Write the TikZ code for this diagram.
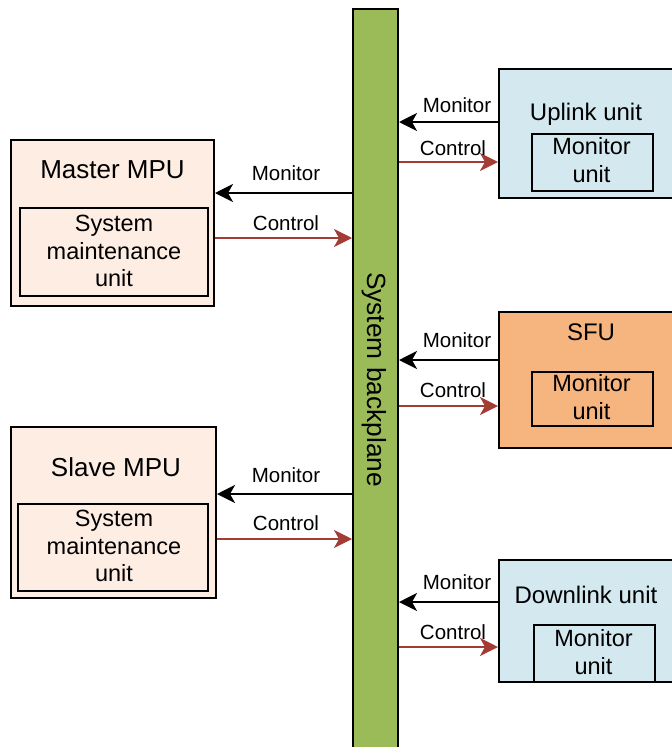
\documentclass[tikz,border=0pt]{standalone}
\usepackage{fontspec}
\setmainfont{Liberation Sans}
\usetikzlibrary{arrows.meta}

\definecolor{mpufill}{RGB}{253,237,227}
\definecolor{linkfill}{RGB}{211,233,239}
\definecolor{sfufill}{RGB}{246,180,127}
\definecolor{bpfill}{RGB}{155,187,89}
\definecolor{ctrlred}{RGB}{163,60,52}

\tikzset{
  box/.style={draw=black, line width=2pt, inner sep=0pt, align=center},
  titletext/.style={font=\fontsize{24}{27.5}\selectfont},
  mputitle/.style={font=\fontsize{26}{28}\selectfont},
  boxtext/.style={font=\fontsize{23.5}{27.5}\selectfont, align=center},
  lbl/.style={font=\fontsize{20.5}{23}\selectfont, inner sep=0pt},
  tip/.style={-{Stealth[length=18pt,width=18pt,inset=5pt]}},
  mon/.style={tip, draw=black, line width=2pt},
  ctl/.style={tip, draw=ctrlred, fill=ctrlred, line width=2pt},
}

\begin{document}
\begin{tikzpicture}[x=1pt, y=-1pt]
\useasboundingbox (0,0) rectangle (672,747);

% system backplane
\node[box, fill=bpfill, minimum width=45pt, minimum height=760pt,
      anchor=north west] (bp) at (352,8) {};
\node[rotate=-90, font=\fontsize{26.3}{28}\selectfont] (bplabel) at (374.5,379.5) {System backplane};

% master MPU
\node[box, fill=mpufill, minimum width=203pt, minimum height=166pt] (master) at (112.5,223) {};
\node[mputitle] (mastertitle) at (112.5,170) {Master MPU};
\node[box, fill=mpufill, minimum width=188pt, minimum height=88pt] (masterin) at (114,252) {};
\node[boxtext] (mastertxt) at (114,251) {System\\maintenance\\unit};

% slave MPU
\node[box, fill=mpufill, minimum width=205pt, minimum height=171pt] (slave) at (113.5,512.5) {};
\node[mputitle] (slavetitle) at (116,467) {Slave MPU};
\node[box, fill=mpufill, minimum width=190pt, minimum height=87pt] (slavein) at (113,547.5) {};
\node[boxtext] (slavetxt) at (114,546) {System\\maintenance\\unit};

% uplink unit
\node[box, fill=linkfill, minimum width=200pt, minimum height=129pt, anchor=north west] (up) at (498,68) {};
\node[titletext] (uptitle) at (586,114) {Uplink unit};
\node[box, fill=linkfill, minimum width=121pt, minimum height=57pt, anchor=north west] (upin) at (531,133) {};
\node[boxtext] (uptxt) at (591.5,160) {Monitor\\unit};

% SFU
\node[box, fill=sfufill, minimum width=200pt, minimum height=136pt, anchor=north west] (sfu) at (498,311) {};
\node[titletext] (sfutitle) at (591,332) {SFU};
\node[box, fill=sfufill, minimum width=121pt, minimum height=54pt, anchor=north west] (sfuin) at (531,371) {};
\node[boxtext] (sfutxt) at (591.5,397) {Monitor\\unit};

% downlink unit
\node[box, fill=linkfill, minimum width=200pt, minimum height=122pt, anchor=north west] (down) at (498,559) {};
\node[titletext] (downtitle) at (586,595) {Downlink unit};
\node[box, fill=linkfill, minimum width=121pt, minimum height=57pt, anchor=north west] (downin) at (533,624) {};
\node[boxtext] (downtxt) at (593.5,652) {Monitor\\unit};

% links between the MPUs and the backplane
\draw[mon] (bp.west |- 0,193) -- (master.east |- 0,193);
\draw[ctl] (master.east |- 0,238) -- (bp.west |- 0,238);
\node[lbl] (mml) at (286,173) {Monitor};
\node[lbl] (mcl) at (286,223) {Control};

\draw[mon] (bp.west |- 0,494) -- (slave.east |- 0,494);
\draw[ctl] (slave.east |- 0,539) -- (bp.west |- 0,539);
\node[lbl] (sml) at (286,475) {Monitor};
\node[lbl] (scl) at (286,523) {Control};

% links between the backplane and the service boards
\draw[mon] (up.west |- 0,122) -- (bp.east |- 0,122);
\draw[ctl] (bp.east |- 0,162) -- (up.west |- 0,162);
\node[lbl] (uml) at (457,105) {Monitor};
\node[lbl] (ucl) at (453,148) {Control};

\draw[mon] (sfu.west |- 0,360) -- (bp.east |- 0,360);
\draw[ctl] (bp.east |- 0,406) -- (sfu.west |- 0,406);
\node[lbl] (fml) at (457,340) {Monitor};
\node[lbl] (fcl) at (453,390) {Control};

\draw[mon] (down.west |- 0,602) -- (bp.east |- 0,602);
\draw[ctl] (bp.east |- 0,647) -- (down.west |- 0,647);
\node[lbl] (dml) at (457,582) {Monitor};
\node[lbl] (dcl) at (453,632) {Control};
\end{tikzpicture}
\end{document}
